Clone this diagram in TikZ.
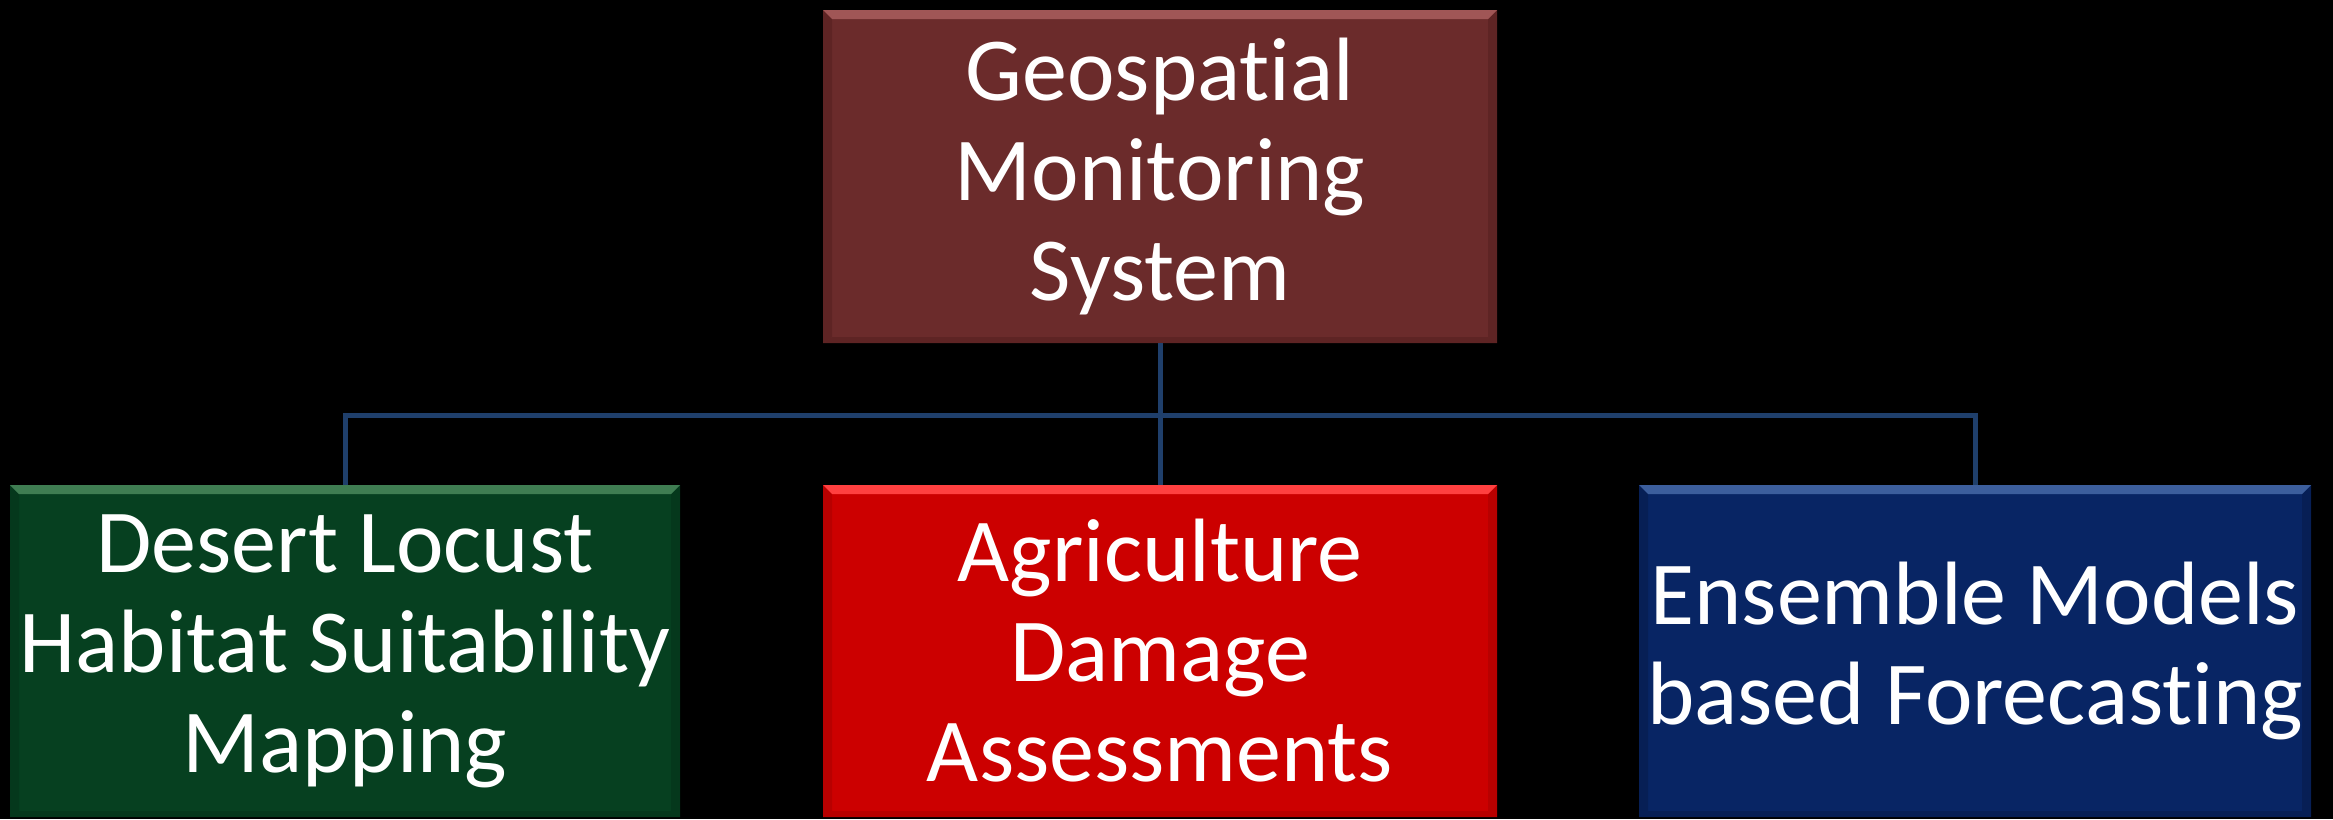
\documentclass[tikz,border=0pt]{standalone}
\usepackage{fontspec}
\setmainfont{Carlito}[Ligatures=NoCommon]
\usetikzlibrary{calc}
\definecolor{maroonbox}{HTML}{6B2B2B}
\definecolor{maroonlit}{HTML}{A05656}
\definecolor{maroondk}{HTML}{5E2424}
\definecolor{greenbox}{HTML}{064020}
\definecolor{greenlit}{HTML}{3F7D52}
\definecolor{greendk}{HTML}{05381C}
\definecolor{redbox}{HTML}{CC0000}
\definecolor{redlit}{HTML}{FF4040}
\definecolor{reddk}{HTML}{B80000}
\definecolor{bluebox}{HTML}{082564}
\definecolor{bluelit}{HTML}{3C5E9C}
\definecolor{bluedk}{HTML}{071F55}
\definecolor{linkblue}{HTML}{1F3F6B}
\tikzset{
  box/.style={rectangle, inner sep=0pt, outer sep=0pt, text=white,
    align=center, font=\fontsize{90}{100}\selectfont},
  link/.style={draw=linkblue, line width=5pt}
}
% bevelled edges of a box: #1 node, #2 light colour, #3 dark colour
\newcommand{\bevelbox}[3]{%
  \fill[#3] (#1.north west) -- ($(#1.north west)+(9,9)$) -- ($(#1.south west)+(9,-6)$) -- (#1.south west) -- cycle;
  \fill[#3] (#1.north east) -- ($(#1.north east)+(-9,9)$) -- ($(#1.south east)+(-9,-6)$) -- (#1.south east) -- cycle;
  \fill[#3] (#1.south west) -- ($(#1.south west)+(9,-6)$) -- ($(#1.south east)+(-9,-6)$) -- (#1.south east) -- cycle;
  \fill[#2] (#1.north west) -- (#1.north east) -- ($(#1.north east)+(-9,9)$) -- ($(#1.north west)+(9,9)$) -- cycle;
}
\begin{document}
\begin{tikzpicture}[x=1pt,y=-1pt]
  \fill[black] (0,0) rectangle (2333,819);
  \useasboundingbox (0,0) rectangle (2333,819);

  \coordinate (bus) at (1160,415);

  % boxes
  \node[box, fill=maroonbox, minimum width=674pt, minimum height=333pt] (top) at (1160,176.5)
    {Geospatial\\Monitoring\\System};
  \node[box, fill=greenbox, minimum width=670pt, minimum height=332pt] (dl) at (345,651)
    {Desert Locust\\Habitat Suitability\\Mapping};
  \node[box, fill=redbox, minimum width=674pt, minimum height=332pt] (ag) at (1160,651)
    {Agriculture\\Damage\\Assessments};
  \node[box, fill=bluebox, minimum width=672pt, minimum height=332pt] (en) at (1975,651)
    {Ensemble Models\\based Forecasting};

  % bevelled edges
  \bevelbox{top}{maroonlit}{maroondk}
  \bevelbox{dl}{greenlit}{greendk}
  \bevelbox{ag}{redlit}{reddk}
  \bevelbox{en}{bluelit}{bluedk}

  % connectors
  \draw[link] (top.south) -- (ag.north);
  \draw[link] (dl.north) -- (dl.north |- bus) -- (en.north |- bus) -- (en.north);
\end{tikzpicture}
\end{document}
